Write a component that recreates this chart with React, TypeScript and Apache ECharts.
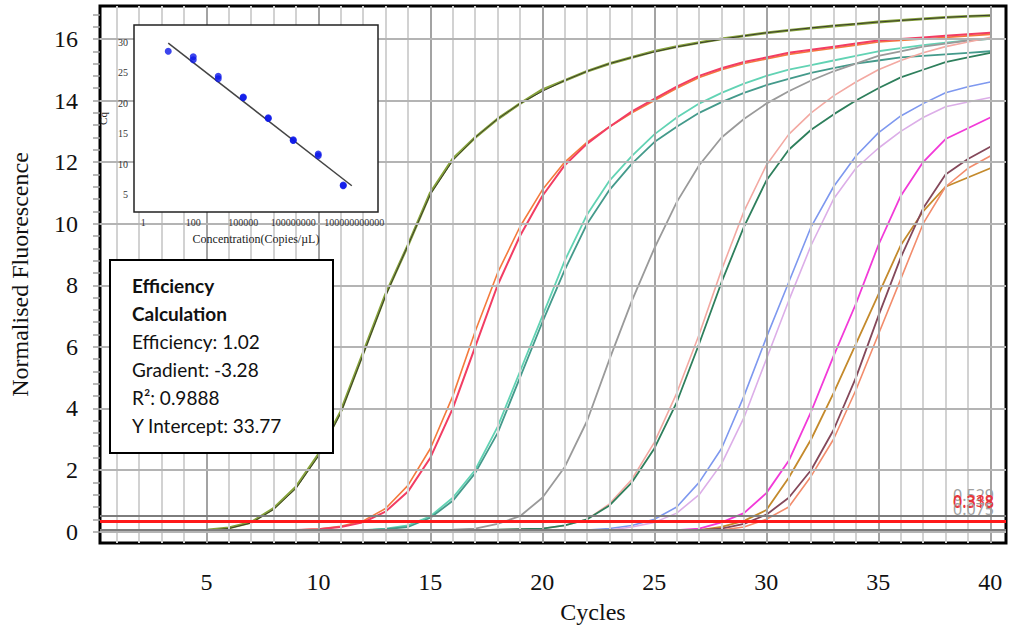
import React, { useEffect, useRef } from "react";
import * as echarts from "echarts";

// ---------- main amplification plot data ----------
const cycles = [1, 2, 3, 4, 5, 6, 7, 8, 9, 10, 11, 12, 13, 14, 15, 16, 17, 18, 19, 20, 21, 22, 23, 24, 25, 26, 27, 28, 29, 30, 31, 32, 33, 34, 35, 36, 37, 38, 39, 40];
const xLabelValues = [5, 10, 15, 20, 25, 30, 35, 40];
const yLabelValues = [0, 2, 4, 6, 8, 10, 12, 14, 16];

const oliveA = [0, 0, 0, 0.02, 0.05, 0.12, 0.3, 0.75, 1.45, 2.5, 3.9, 5.8, 7.7, 9.3, 11.0, 12.1, 12.8, 13.4, 13.9, 14.35, 14.65, 14.95, 15.2, 15.4, 15.6, 15.75, 15.88, 16.0, 16.1, 16.2, 16.28, 16.35, 16.42, 16.48, 16.55, 16.6, 16.65, 16.7, 16.73, 16.76];
const oliveB = [0, 0, 0, 0.01, 0.04, 0.1, 0.28, 0.72, 1.4, 2.45, 3.85, 5.75, 7.65, 9.3, 10.95, 12.05, 12.8, 13.4, 13.9, 14.3, 14.65, 14.95, 15.2, 15.4, 15.58, 15.74, 15.87, 15.99, 16.1, 16.2, 16.28, 16.36, 16.43, 16.49, 16.55, 16.6, 16.65, 16.7, 16.74, 16.77];
const orange = [0, 0, 0, 0, 0, 0, 0.02, 0.03, 0.05, 0.08, 0.17, 0.35, 0.75, 1.5, 2.7, 4.4, 6.5, 8.4, 9.9, 11.1, 12.0, 12.65, 13.15, 13.6, 14.0, 14.4, 14.75, 15.0, 15.2, 15.35, 15.5, 15.6, 15.7, 15.8, 15.9, 15.95, 16.0, 16.05, 16.1, 16.15];
const pinkRed = [0, 0, 0, 0, 0, 0, 0.02, 0.03, 0.05, 0.08, 0.15, 0.3, 0.65, 1.3, 2.4, 4.0, 6.0, 8.0, 9.6, 10.9, 11.9, 12.6, 13.15, 13.65, 14.05, 14.45, 14.8, 15.05, 15.25, 15.4, 15.55, 15.65, 15.75, 15.85, 15.95, 16.0, 16.05, 16.1, 16.15, 16.2];
const tealLight = [0, 0, 0, 0, 0, 0, 0, 0, 0.01, 0.02, 0.03, 0.05, 0.1, 0.2, 0.5, 1.1, 2.0, 3.4, 5.2, 7.0, 8.8, 10.3, 11.4, 12.2, 12.9, 13.45, 13.9, 14.25, 14.55, 14.8, 15.0, 15.15, 15.3, 15.45, 15.6, 15.7, 15.8, 15.88, 15.95, 16.0];
const tealDark = [0, 0, 0, 0, 0, 0, 0, 0, 0.01, 0.02, 0.03, 0.04, 0.08, 0.15, 0.45, 1.0, 1.9, 3.2, 5.0, 6.8, 8.5, 10.0, 11.1, 11.95, 12.65, 13.15, 13.6, 13.95, 14.25, 14.5, 14.7, 14.9, 15.05, 15.2, 15.3, 15.4, 15.45, 15.5, 15.55, 15.6];
const gray = [0, 0, 0, 0, 0, 0, 0, 0, 0, 0, 0, 0.01, 0.02, 0.03, 0.04, 0.06, 0.1, 0.25, 0.5, 1.1, 2.1, 3.6, 5.6, 7.5, 9.2, 10.7, 11.9, 12.8, 13.4, 13.9, 14.3, 14.65, 14.95, 15.2, 15.45, 15.6, 15.75, 15.85, 15.95, 16.0];
const salmon = [0, 0, 0, 0, 0, 0, 0, 0, 0, 0, 0, 0, 0, 0, 0, 0.02, 0.04, 0.06, 0.08, 0.1, 0.2, 0.4, 0.9, 1.7, 2.9, 4.5, 6.4, 8.5, 10.4, 11.9, 12.9, 13.6, 14.15, 14.6, 15.0, 15.3, 15.55, 15.75, 15.9, 16.05];
const green = [0, 0, 0, 0, 0, 0, 0, 0, 0, 0, 0, 0, 0, 0, 0, 0.02, 0.04, 0.06, 0.08, 0.1, 0.2, 0.4, 0.85, 1.6, 2.7, 4.2, 6.1, 8.1, 9.9, 11.4, 12.4, 13.05, 13.55, 14.0, 14.4, 14.75, 15.0, 15.25, 15.4, 15.55];
const blue = [0, 0, 0, 0, 0, 0, 0, 0, 0, 0, 0, 0, 0, 0, 0, 0, 0, 0, 0, 0, 0.02, 0.05, 0.1, 0.2, 0.4, 0.8, 1.6, 2.7, 4.4, 6.3, 8.1, 9.9, 11.2, 12.2, 12.95, 13.5, 13.9, 14.25, 14.45, 14.6];
const violet = [0, 0, 0, 0, 0, 0, 0, 0, 0, 0, 0, 0, 0, 0, 0, 0, 0, 0, 0, 0, 0.01, 0.03, 0.05, 0.15, 0.3, 0.6, 1.2, 2.2, 3.7, 5.6, 7.5, 9.3, 10.8, 11.8, 12.45, 13.0, 13.45, 13.8, 13.95, 14.1];
const magenta = [0, 0, 0, 0, 0, 0, 0, 0, 0, 0, 0, 0, 0, 0, 0, 0, 0, 0, 0, 0, 0, 0, 0.01, 0.02, 0.03, 0.05, 0.1, 0.3, 0.6, 1.25, 2.3, 3.9, 5.7, 7.4, 9.3, 10.9, 12.0, 12.75, 13.1, 13.45];
const gold = [0, 0, 0, 0, 0, 0, 0, 0, 0, 0, 0, 0, 0, 0, 0, 0, 0, 0, 0, 0, 0, 0, 0, 0.01, 0.02, 0.03, 0.05, 0.15, 0.35, 0.7, 1.75, 3.0, 4.5, 6.1, 7.7, 9.3, 10.4, 11.2, 11.5, 11.8];
const mauve = [0, 0, 0, 0, 0, 0, 0, 0, 0, 0, 0, 0, 0, 0, 0, 0, 0, 0, 0, 0, 0, 0, 0, 0, 0.01, 0.03, 0.05, 0.1, 0.25, 0.55, 1.1, 2.0, 3.3, 5.0, 7.0, 8.9, 10.5, 11.6, 12.1, 12.5];
const coral = [0, 0, 0, 0, 0, 0, 0, 0, 0, 0, 0, 0, 0, 0, 0, 0, 0, 0, 0, 0, 0, 0, 0, 0, 0.01, 0.02, 0.03, 0.05, 0.15, 0.4, 0.8, 1.8, 3.0, 4.6, 6.4, 8.2, 10.0, 11.2, 11.8, 12.2];

const thresholds = [0.529, 0.338, 0.318, 0.075];
const thresholdLabels = ["0.529", "0.338", "0.318", "0.075"];

// ---------- standard curve (inset) data ----------
const insetConc = [10, 100, 100, 1000, 1000, 10000, 10000, 100000, 100000, 1000000, 1000000, 10000000, 10000000, 100000000, 100000000];
const insetCq = [28.5, 27.6, 27.1, 24.4, 24.0, 21.0, 20.9, 17.6, 17.5, 14.0, 13.9, 11.7, 11.4, 6.6, 6.5];
const fitConc = [10, 220000000];
const fitCq = [29.84, 6.5];
const insetTickExp = [0, 2, 4, 6, 8];
const insetTickLabels = ["1", "100", "100000", "100000000", "100000000000"];
const insetYTicks = [5, 10, 15, 20, 25, 30];

const SERIF = "'Liberation Serif', 'Times New Roman', serif";
const BOXFONT = "Lato, sans-serif";

export default function App() {
  const ref = useRef<HTMLDivElement>(null);
  useEffect(() => {
    const chart = echarts.init(ref.current as HTMLDivElement, null, { renderer: "svg" });

    const curves = [
      { c: "#86a23a", v: oliveA, w: 2.8 },
      { c: "#3a3d2e", v: oliveB, w: 1.0 },
      { c: "#f47a3c", v: orange, w: 1.6 },
      { c: "#f23d63", v: pinkRed, w: 2 },
      { c: "#62d3b4", v: tealLight, w: 1.8 },
      { c: "#449a8b", v: tealDark, w: 1.8 },
      { c: "#9a9a9a", v: gray, w: 1.8 },
      { c: "#f3a9a2", v: salmon, w: 1.6 },
      { c: "#2e7f5c", v: green, w: 1.8 },
      { c: "#7e98ef", v: blue, w: 1.6 },
      { c: "#dcaee8", v: violet, w: 1.6 },
      { c: "#f23ad8", v: magenta, w: 1.8 },
      { c: "#c48a2c", v: gold, w: 1.8 },
      { c: "#84485a", v: mauve, w: 1.8 },
      { c: "#f28c6c", v: coral, w: 1.6 },
    ];

    const yMinorTicks: number[] = [];
    for (let i = 0; i <= 42; i++) yMinorTicks.push(Math.round(i * 0.4 * 10) / 10);

    const insetMinor: number[] = [];
    [-1, 1, 3, 5, 7, 9].forEach((m) => {
      for (let k = 2; k <= 9; k++) {
        const e = Math.log10(k) + m;
        if (e > -0.37 && e < 9.39) insetMinor.push(e);
      }
    });

    const curveSeries = curves.map((cv, i) => ({
      type: "line",
      name: "s" + i,
      xAxisIndex: 0,
      yAxisIndex: 0,
      data: cycles.map((x, j) => [x, cv.v[j]]),
      symbol: "none",
      smooth: false,
      z: 3,
      lineStyle: { color: cv.c, width: cv.w },
    }));

    const option: any = {
      animation: false,
      backgroundColor: "#ffffff",
      grid: [
        { left: 96, top: 6, width: 910, height: 537, show: true, borderColor: "#000", borderWidth: 3, backgroundColor: "transparent", z: 0 },
        { left: 134, top: 25, width: 244, height: 187, show: true, borderColor: "#222", borderWidth: 1.5, backgroundColor: "#ffffff", z: 10 },
      ],
      xAxis: [
        {
          gridIndex: 0, type: "value", min: 0.25, max: 40.7,
          axisLine: { show: false },
          splitLine: { show: false },
          axisTick: { show: true, customValues: cycles, length: 7, lineStyle: { color: "#a0a0a0", width: 1.5 } },
          axisLabel: { customValues: xLabelValues, fontFamily: SERIF, fontSize: 24, color: "#111", margin: 27 },
          name: "Cycles", nameLocation: "middle", nameGap: 57,
          nameTextStyle: { fontFamily: SERIF, fontSize: 24, color: "#111", padding: [0, 0, 0, 80] },
        },
        {
          gridIndex: 1, type: "value", min: -0.37, max: 9.39, z: 11,
          axisLine: { show: false },
          splitLine: { show: false },
          axisTick: { show: false },
          axisLabel: {
            customValues: insetTickExp, fontFamily: SERIF, fontSize: 10, color: "#333", margin: 5,
            showMinLabel: true, showMaxLabel: true, hideOverlap: false,
            formatter: (v: number) => {
              const idx = insetTickExp.indexOf(Math.round(v));
              if (idx < 0) return "";
              return idx === insetTickExp.length - 1 ? "{s|" + insetTickLabels[idx] + "}" : insetTickLabels[idx];
            },
            rich: { s: { fontFamily: SERIF, fontSize: 10, color: "#333", padding: [0, 0, 0, 22] } },
          },
          name: "Concentration(Copies/\u00b5L)", nameLocation: "middle", nameGap: 21,
          nameTextStyle: { fontFamily: SERIF, fontSize: 12, color: "#222" },
        },
      ],
      yAxis: [
        {
          gridIndex: 0, type: "value", min: -0.37, max: 17.07,
          axisLine: { show: false },
          splitLine: { show: false },
          axisTick: { show: true, customValues: yMinorTicks, length: 7, lineStyle: { color: "#a0a0a0", width: 1.5 } },
          axisLabel: { customValues: yLabelValues, fontFamily: SERIF, fontSize: 24, color: "#111", margin: 22 },
          name: "Normalised Fluorescence", nameLocation: "middle", nameGap: 68,
          nameTextStyle: { fontFamily: SERIF, fontSize: 24, color: "#111", padding: [0, 0, 0, 0] },
        },
        {
          gridIndex: 1, type: "value", min: 2.2, max: 32.8, z: 11,
          axisLine: { show: false },
          splitLine: { show: false },
          axisTick: { show: false },
          axisLabel: { customValues: insetYTicks, fontFamily: SERIF, fontSize: 10, color: "#333", margin: 6 },
          name: "Cq", nameLocation: "middle", nameGap: 26,
          nameTextStyle: { fontFamily: SERIF, fontSize: 11, color: "#222" },
        },
      ],
      series: [
        {
          type: "line", xAxisIndex: 0, yAxisIndex: 0, data: [], z: 1, silent: true,
          markLine: {
            silent: true, symbol: ["none", "none"], label: { show: false }, animation: false,
            data: [
              ...cycles.map((c) => ({ xAxis: c, lineStyle: { color: c % 5 === 0 ? "#a3a3a3" : "#d2d2d2", width: 2, type: "solid" } })),
              ...yLabelValues.map((y) => ({ yAxis: y, lineStyle: { color: "#b4b4b4", width: 2, type: "solid" } })),
            ],
          },
        },
        ...curveSeries,
        {
          type: "line", xAxisIndex: 0, yAxisIndex: 0, data: [], z: 5, silent: true,
          markLine: {
            silent: true, symbol: ["none", "none"], animation: false,
            data: thresholds.map((t, i) => ({
              yAxis: t,
              lineStyle: { color: i === 1 || i === 2 ? "#ff1a1a" : "#7d7d7d", width: 2, type: "solid" },
              label: {
                show: true, position: "insideEndTop", distance: 12,
                formatter: thresholdLabels[i],
                color: i === 1 || i === 2 ? "#e8343a" : "#a0a0a0",
                fontSize: 16, fontFamily: "'Noto Sans', sans-serif",
              },
            })),
          },
        },
        // inset grid lines
        {
          type: "line", xAxisIndex: 1, yAxisIndex: 1, data: [], z: 11, silent: true,
          markLine: {
            silent: true, symbol: ["none", "none"], label: { show: false }, animation: false,
            data: [
              ...insetMinor.map((e) => ({ xAxis: e, lineStyle: { color: "#e4e4e4", width: 1, type: "solid" } })),
              ...insetTickExp.map((e) => ({ xAxis: e, lineStyle: { color: "#d6d6d6", width: 1.2, type: "solid" } })),
              ...insetYTicks.map((y) => ({ yAxis: y, lineStyle: { color: "#dadada", width: 1.5, type: "solid" } })),
            ],
          },
        },
        {
          type: "line", xAxisIndex: 1, yAxisIndex: 1, z: 12, symbol: "none",
          data: fitConc.map((c, i) => [Math.log10(c), fitCq[i]]),
          lineStyle: { color: "#444", width: 1.5 },
        },
        {
          type: "scatter", xAxisIndex: 1, yAxisIndex: 1, z: 13, symbolSize: 7,
          data: insetConc.map((c, i) => [Math.log10(c), insetCq[i]]),
          itemStyle: { color: "#0b16e8" },
        },
      ],
      graphic: [
        {
          type: "group", z: 30,
          children: [
            { type: "rect", shape: { x: 110, y: 260, width: 223, height: 193 }, style: { fill: "#fff", stroke: "#000", lineWidth: 2 }, z: 30 },
            { type: "text", x: 132, y: 285, style: { text: "Efficiency", fontFamily: BOXFONT, fontWeight: "bold", fontSize: 19, fill: "#111", verticalAlign: "middle" }, z: 31 },
            { type: "text", x: 132, y: 313, style: { text: "Calculation", fontFamily: BOXFONT, fontWeight: "bold", fontSize: 19, fill: "#111", verticalAlign: "middle" }, z: 31 },
            { type: "text", x: 132, y: 341, style: { text: "Efficiency: 1.02", fontFamily: BOXFONT, fontSize: 19, fill: "#111", verticalAlign: "middle" }, z: 31 },
            { type: "text", x: 132, y: 369, style: { text: "Gradient: -3.28", fontFamily: BOXFONT, fontSize: 19, fill: "#111", verticalAlign: "middle" }, z: 31 },
            { type: "text", x: 132, y: 397, style: { text: "R\u00b2: 0.9888", fontFamily: BOXFONT, fontSize: 19, fill: "#111", verticalAlign: "middle" }, z: 31 },
            { type: "text", x: 132, y: 425, style: { text: "Y Intercept: 33.77", fontFamily: BOXFONT, fontSize: 19, fill: "#111", verticalAlign: "middle" }, z: 31 },
          ],
        },
      ],
    };

    chart.setOption(option);
    return () => chart.dispose();
  }, []);

  return <div ref={ref} style={{ position: "absolute", left: 0, top: 0, width: 1013, height: 637 }} />;
}
